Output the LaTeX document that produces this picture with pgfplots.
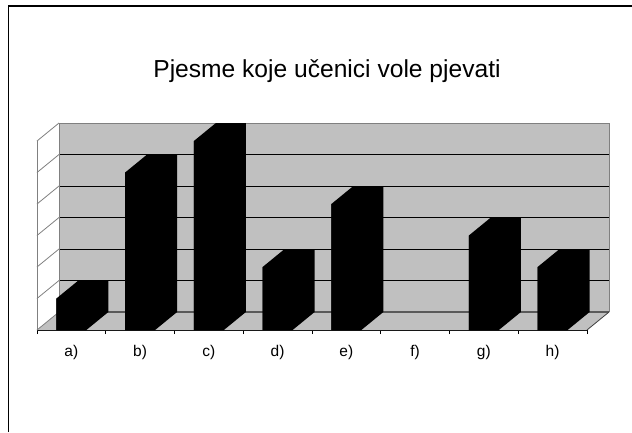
\documentclass[border=0pt]{standalone}
\usepackage{fontspec}
\setmainfont{Liberation Sans}
\usepackage{pgfplots}
\pgfplotsset{compat=1.18}
\usepackage{pgfplotstable}
\definecolor{wall}{RGB}{192,192,192}
\definecolor{edge}{RGB}{128,128,128}
\pgfplotstableread{
x v
0 1
1 5
2 6
3 2
4 4
5 0
6 3
7 2
}\songs
\pgfdeclareplotmark{bar3d}{%
 \pgfmathsetmacro\hh{\val*31.5}%
 \pgfmathsetmacro\bb{18-\hh}%
 \ifdim\hh pt>0.1pt
 \pgfpathmoveto{\pgfpoint{-15pt}{0pt}}%
 \pgfpathlineto{\pgfpoint{7pt}{18pt}}%
 \pgfpathlineto{\pgfpoint{37pt}{18pt}}%
 \pgfpathlineto{\pgfpoint{37pt}{\bb pt}}%
 \pgfpathlineto{\pgfpoint{15pt}{-\hh pt}}%
 \pgfpathlineto{\pgfpoint{-15pt}{-\hh pt}}%
 \pgfpathclose
 \pgfusepathqfill
 \fi}
\begin{document}
\begin{tikzpicture}[x=1pt,y=1pt]
\useasboundingbox (0,0) rectangle (632,432);
\draw[line width=1.5pt] (8.3,0) -- (8.3,426) -- (632,426);
\node[font=\fontsize{24.6}{28}\selectfont, anchor=base, inner sep=0pt] at (327,354) {Pjesme koje učenici vole pjevati};
\begin{axis}[at={(37pt,102pt)}, anchor=south west, scale only axis,
  width=550pt, height=189pt, xmin=-0.5, xmax=7.5, ymin=0, ymax=6, clip=false,
  axis x line*=bottom, axis y line=none,
  x axis line style={-, black, line width=0.8pt},
  xtick={0,...,7}, xticklabels={a),b),c),d),e),f),g),h)},
  minor xtick={-0.5,0.5,...,7.5},
  major tick length=0pt, minor tick length=4pt, tick align=outside,
  tick style={black, line width=0.8pt},
  xticklabel style={font=\fontsize{15.5}{18}\selectfont, anchor=base, yshift=-26pt},
]
\fill[wall] (axis cs:-0.18,0.5714) rectangle (axis cs:7.82,6.5714);
\fill[wall] (axis cs:-0.5,0) -- (axis cs:7.5,0) -- (axis cs:7.82,0.5714) -- (axis cs:-0.18,0.5714) -- cycle;
\pgfplotsinvokeforeach{1,...,5}{\draw[black, line width=0.9pt] (axis cs:-0.18,#1.5714) -- (axis cs:7.82,#1.5714);}
\pgfplotsinvokeforeach{0,...,6}{\draw[edge, line width=0.8pt] (axis cs:-0.5,#1) -- (axis cs:-0.18,#1.5714);}
\draw[edge!70!black, line width=1.6pt] (axis cs:-0.18,0.5714) -- (axis cs:7.82,0.5714);
\draw[edge, line width=0.9pt] (axis cs:-0.18,0.5714) -- (axis cs:-0.18,6.5714) -- (axis cs:7.82,6.5714) -- (axis cs:7.82,0.5714);
\draw[edge, line width=0.8pt] (axis cs:-0.5,0) -- (axis cs:-0.5,6);
\draw[black!75, line width=0.8pt] (axis cs:7.5,0) -- (axis cs:7.82,0.5714);
\addplot[ybar, bar width=30pt, fill=black, draw=none, mark=bar3d,
  mark options={fill=black, draw=none},
  visualization depends on={rawy \as \val}]
  table[x=x,y=v]{\songs};
\end{axis}
\end{tikzpicture}
\end{document}
